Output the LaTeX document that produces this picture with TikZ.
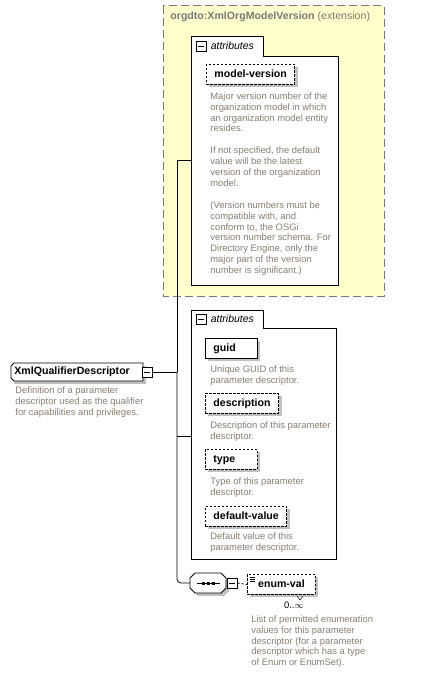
\documentclass[tikz,border=0pt]{standalone}
\usepackage{fontspec}
\setmainfont{Liberation Sans}
\usetikzlibrary{shapes.misc, shadows, positioning}
\definecolor{notegray}{RGB}{138,125,110}
\definecolor{extyellow}{RGB}{255,255,204}
\definecolor{shadegray}{RGB}{192,192,192}
\definecolor{titlegray}{RGB}{120,120,120}
\tikzset{
  boxshade/.style={drop shadow={shadow xshift=3pt, shadow yshift=-3pt, fill=shadegray, opacity=1}},
  elem/.style={draw, fill=white, line width=0.9pt, anchor=north west, minimum height=20pt,
    inner xsep=8pt, inner ysep=0pt, text height=8pt, text depth=2.5pt,
    font=\bfseries\fontsize{10.6}{12}\selectfont, boxshade},
  optelem/.style={elem, dash pattern=on 2.5pt off 1.5pt},
  note/.style={anchor=north west, inner sep=0pt, align=left, text=notegray,
    font=\fontsize{9.4}{10.9}\selectfont},
  minusbox/.style={draw, fill=white, line width=0.8pt, minimum size=10pt, inner sep=0pt,
    path picture={\draw[line width=0.8pt] ([xshift=2pt]path picture bounding box.west)
      -- ([xshift=-2pt]path picture bounding box.east);}},
  tabtext/.style={font=\itshape\fontsize{10.5}{12}\selectfont, inner sep=0pt}
}
\begin{document}
\begin{tikzpicture}[x=1pt, y=-1pt, line width=0.8pt]
\useasboundingbox (0,0) rectangle (427,676);

\draw[titlegray, fill=extyellow, line width=1pt, dash pattern=on 8pt off 4pt] (163,6) rectangle (384,296);
\node[anchor=west, inner sep=0pt, text=titlegray, font=\fontsize{10.6}{12}\selectfont] (exttitle) at (170,17)
  {\textbf{orgdto:XmlOrgModelVersion} (extension)};

\draw[fill=white] (191,285) -- (191,36) -- (263,36) -- (263,56) -- (338,56) -- (338,285) -- cycle;
\node[minusbox] (minA) at (201,46) {};
\node[tabtext, right=4pt of minA] (tabA) {attributes};
\node[optelem] (modelversion) at (206,64) {model-version};
\node[note] (mvnote) at (210,92) {Major version number of the\\organization model in which\\an organization model entity\\resides.\\[10.9pt]
  If not specified, the default\\value will be the latest\\version of the organization\\model.\\[10.9pt]
  (Version numbers must be\\compatible with, and\\conform to, the OSGi\\version number schema. For\\Directory Engine, only the\\major part of the version\\number is significant.)};

\draw[fill=white] (191,559) -- (191,310) -- (263,310) -- (263,328) -- (336,328) -- (336,559) -- cycle;
\node[minusbox] (minB) at (201,319) {};
\node[tabtext, right=4pt of minB] (tabB) {attributes};
\node[elem, text width=36pt] (guid) at (205,338) {guid};
\node[note] (guidnote) at (210,365) {Unique GUID of this\\parameter descriptor.};
\node[optelem] (description) at (205,393) {description};
\node[note] (descnote) at (210,421) {Description of this parameter\\descriptor.};
\node[optelem, text width=36pt] (type) at (205,449) {type};
\node[note] (typenote) at (210,477) {Type of this parameter\\descriptor.};
\node[optelem] (defaultvalue) at (205,506) {default-value};
\node[note] (defnote) at (210,532) {Default value of this\\parameter descriptor.};

\fill[shadegray] (14,366) rectangle (146,384);
\draw[fill=white, line width=0.9pt] (14,363) -- (143,363) -- (143,381) -- (14,381) -- (11,378) -- (11,366) -- cycle;
\node[anchor=west, inner sep=0pt, font=\bfseries\fontsize{10.6}{12}\selectfont] (qualdesc) at (14,372) {XmlQualifierDescriptor};
\node[minusbox] (qualmin) at (147,372) {};
\node[note] (qualnote) at (15,386) {Definition of a parameter\\descriptor used as the qualifier\\for capabilities and privileges.};

\node[minimum width=36pt, minimum height=20pt, inner sep=0pt, anchor=west] (seq) at (190,583) {};
\fill[shadegray] (198,576) -- (224,576) -- (229,581) -- (229,591) -- (224,596) -- (198,596) -- (193,591) -- (193,581) -- cycle;
\draw[fill=white] (195,573) -- (221,573) -- (226,578) -- (226,588) -- (221,593) -- (195,593) -- (190,588) -- (190,578) -- cycle;
\draw ([xshift=7pt]seq.west) -- ([xshift=-7pt]seq.east);
\foreach \dx in {-5,0,5}
  \fill ([xshift=\dx pt]seq.center) +(-1.5,-1.5) rectangle +(1.5,1.5);
\node[minusbox, right=0pt of seq] (seqmin) {};
\node[optelem, minimum width=68pt] (enumval) at (247,574) {enum-val};
\foreach \dy in {3,5,7}
  \draw[line width=0.5pt] ([xshift=3pt, yshift=-\dy pt]enumval.north west) -- ++(5,0);
\draw[line width=0.5pt] (297,596) -- (300,600) -- (303,596);
\node[inner sep=0pt, font=\fontsize{9.4}{11}\selectfont] (enumocc) at (294,605) {0..$\infty$};
\node[note] (enumnote) at (251,615) {List of permitted enumeration\\values for this parameter\\descriptor (for a parameter\\descriptor which has a type\\of Enum or EnumSet).};

\coordinate (trunk) at (177,372);
\coordinate (attrAin) at (191,160);
\coordinate (attrBin) at (191,436);
\draw (qualmin.east) -- (trunk);
\draw (attrAin) -- (attrAin -| trunk) -- (trunk);
\draw (attrBin) -- (attrBin -| trunk);
\draw[rounded corners=4pt] (trunk) |- (seq.west);
\draw[dash pattern=on 2pt off 2pt] (seqmin.east) -- (enumval.west);
\end{tikzpicture}
\end{document}
